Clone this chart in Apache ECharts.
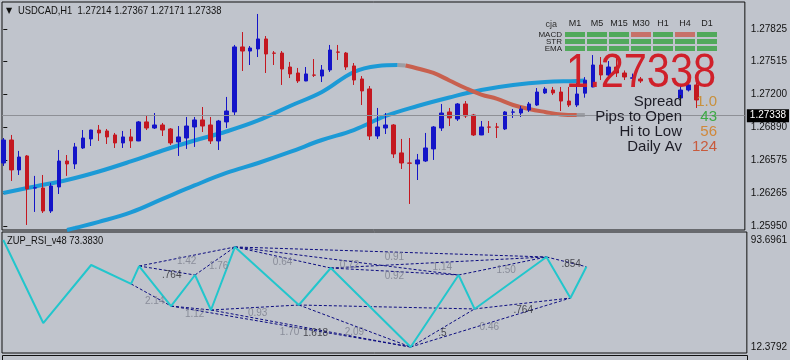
<!DOCTYPE html>
<html><head><meta charset="utf-8">
<script src="https://cdn.jsdelivr.net/npm/echarts@6/dist/echarts.min.js"></script>
<style>html,body{margin:0;padding:0;background:#C0C4CC;}#c{width:790px;height:360px;}</style>
</head><body><div id="c"></div><script>
// ---------- DATA ----------
const symbolName = 'USDCAD,H1';
const headerOHLC = [1.27214, 1.27367, 1.27171, 1.27338];
const lastClose = 1.27338;
const priceTicks = [1.25950, 1.26265, 1.26575, 1.26890, 1.27200, 1.27515, 1.27825];
const rsiTicks = [12.3792, 93.6961];
const rsiName = 'ZUP_RSI_v48';
const rsiLast = 73.3830;

const opens = [1.26549,1.26768,1.26483,1.26616,1.26311,1.26311,1.26092,1.26321,1.26568,1.26540,
1.26692,1.26778,1.26863,1.26854,1.26816,1.26740,1.26797,1.26759,1.26940,1.26882,
1.26911,1.26873,1.26749,1.26787,1.26892,1.26959,1.26911,1.26759,1.26940,1.27035,
1.27654,1.27615,1.27635,1.27730,1.27596,1.27596,1.27463,1.27406,1.27330,1.27387,
1.27377,1.27435,1.27606,1.27596,1.27473,1.27349,1.27254,1.26806,1.26882,1.26911,
1.26645,1.26549,1.26540,1.26568,1.26683,1.26882,1.27035,1.26968,1.27111,1.27006,
1.26816,1.26892,1.26892,1.26873,1.27033,1.27025,1.27054,1.27101,1.27216,1.27244,
1.27225,1.27139,1.27101,1.27214];
const closes = [1.26768,1.26483,1.26606,1.26302,1.26313,1.26092,1.26330,1.26568,1.26540,1.26702,
1.26787,1.26863,1.26835,1.26797,1.26740,1.26797,1.26759,1.26940,1.26882,1.26911,
1.26863,1.26740,1.26797,1.26901,1.26959,1.26901,1.26759,1.26949,1.27044,1.27654,
1.27615,1.27644,1.27730,1.27587,1.27594,1.27444,1.27397,1.27330,1.27397,1.27385,
1.27435,1.27625,1.27604,1.27463,1.27339,1.27235,1.26806,1.26892,1.26911,1.26635,
1.26549,1.26547,1.26578,1.26692,1.26892,1.27025,1.26978,1.27111,1.26997,1.26816,
1.26892,1.26890,1.26890,1.27035,1.27035,1.27063,1.27111,1.27225,1.27254,1.27216,
1.27139,1.27101,1.27206,1.27338];
const lows = [1.26521,1.26378,1.26435,1.25959,1.26083,1.26073,1.26073,1.26254,1.26426,1.26492,
1.26683,1.26711,1.26759,1.26730,1.26692,1.26692,1.26692,1.26757,1.26863,1.26873,
1.26806,1.26721,1.26616,1.26683,1.26702,1.26844,1.26730,1.26673,1.26882,1.27006,
1.27425,1.27482,1.27558,1.27406,1.27482,1.27292,1.27358,1.27311,1.27328,1.27368,
1.27320,1.27416,1.27530,1.27435,1.27292,1.27101,1.26768,1.26778,1.26825,1.26597,
1.26492,1.26159,1.26387,1.26559,1.26578,1.26854,1.26901,1.26949,1.26978,1.26806,
1.26814,1.26835,1.26787,1.26863,1.26978,1.26987,1.27035,1.27092,1.27206,1.27197,
1.27044,1.27082,1.27082,1.27171];
const highs = [1.26787,1.26816,1.26664,1.26625,1.26426,1.26435,1.26359,1.26673,1.26625,1.26740,
1.26863,1.26865,1.26911,1.26873,1.26835,1.26854,1.26873,1.26949,1.26997,1.27025,
1.26930,1.26882,1.26901,1.26987,1.26987,1.27082,1.26987,1.26959,1.27178,1.27673,
1.27796,1.27663,1.27968,1.27758,1.27615,1.27615,1.27511,1.27454,1.27463,1.27539,
1.27482,1.27673,1.27673,1.27606,1.27501,1.27377,1.27282,1.27073,1.27025,1.26920,
1.26778,1.26787,1.26635,1.26835,1.26901,1.27111,1.27073,1.27120,1.27139,1.27016,
1.26949,1.26949,1.26930,1.27044,1.27063,1.27092,1.27130,1.27263,1.27273,1.27273,
1.27273,1.27273,1.27311,1.27367];

// extra bars drawn in the right margin (index, open, close, low, high)
const extraIdx   = [74, 75, 76, 77, 78, 79, 80, 85, 86, 87];
const extraOpen  = [1.27273,1.27482,1.27387,1.27463,1.27406,1.27356,1.27349,1.27168,1.27244,1.27292];
const extraClose = [1.27482,1.27387,1.27463,1.27406,1.27368,1.27360,1.27330,1.27244,1.27292,1.27149];
const extraLow   = [1.27270,1.27339,1.27358,1.27368,1.27339,1.27330,1.27311,1.27130,1.27230,1.27073];
const extraHigh  = [1.27577,1.27558,1.27520,1.27558,1.27430,1.27400,1.27368,1.27290,1.27320,1.27311];

// slow MA (colour by slope) sampled points [barIndex, price]
const maUp   = [[0,1.26264],[4,1.26326],[8,1.26387],[12,1.26468],[16,1.26564],[20,1.26668],[24,1.26763],[28,1.26849],[32,1.26954],[36,1.27092],[40,1.27225],[44,1.27416],[47,1.27473],[49.5,1.27482]];
const maFlat1 = [[49.5,1.27482],[50.5,1.27477]];
const maDown = [[50.5,1.27477],[52,1.27449],[54,1.27406],[56,1.27335],[58,1.27263],[60,1.27201],[62,1.27159],[64,1.27101],[66,1.27063],[68,1.27035],[70,1.27011],[72,1.27006]];
const maFlat2 = [[72,1.27006],[73,1.27006]];
// second MA
const ma2 = [[8,1.25911],[9,1.25930],[12,1.25988],[16,1.26078],[20,1.26207],[24,1.26335],[28,1.26454],[32,1.26549],[36,1.26654],[40,1.26768],[44,1.26863],[48,1.26997],[52,1.27092],[56,1.27173],[60,1.27244],[64,1.27292],[68,1.27320],[72,1.27330],[73,1.27335]];

// signal table
const tfCols = ['M1','M5','M15','M30','H1','H4','D1'];
const sigRows = ['MACD','STR','EMA'];
const sigMACD = [1,1,1,-1,1,-1,1];
const sigSTR  = [1,1,1,1,1,1,1];
const sigEMA  = [1,1,1,1,1,1,1];

// stats panel
const statLabels = ['Spread','Pips to Open','Hi to Low','Daily Av'];
const statValues = ['1.0','43','56','124'];
const statColors = ['#C8903C','#3DAA45','#D0883A','#C85A3C'];

// ZUP zigzag on RSI: [barIndex, rsi]
const zigIdx = [0,5,11,16,17,21,24,26,29,37,41,51,57,59,68,71,73];
const zigVal = [93.6961,30.6,74.7,60.3,73.9,43.5,67.1,40.5,88.4,44.3,72.4,12.3792,67.1,41.3,80.8,49.6,73.383];
// pattern links between zigzag points (point numbers)
const fibLinks = [[3,5],[4,6],[4,8],[6,8],[5,7],[5,11],[7,9],[7,11],[8,10],[8,12],[8,14],[9,11],[9,13],[10,12],[10,14],[11,13],[11,15],[12,14],[13,15],[14,16]];
// ratio labels
const fibLabelIdx = [22.96,21.09,26.96,18.96,23.96,31.84,34.96,35.84,39.09,43.34,43.96,48.96,48.96,54.96,54.96,62.96,60.84,65.09,71.09];
const fibLabelVal = [77.7,67.1,73.9,47.3,37.5,38.2,77.0,23.8,23.0,74.2,23.8,80.8,66.3,73.2,23.0,70.9,27.6,40.5,75.5];
const fibLabelTxt = ['1.42','.764','1.76','2.14','1.12','0.93','0.64','1.70','1.618','0.72','2.09','0.91','0.92','1.14','.5','1.50','0.46','.764','.854'];
const fibLabelDark = [0,1,0,0,0,0,0,0,1,0,0,0,0,0,1,0,0,1,1];

// ---------- BUILD ----------
const SANS = '"Liberation Sans",Arial,sans-serif';
const XMIN = -0.1625, XMAX = 93.0875;
const UP = '#1414C8', DN = '#C41820';

const candleData = opens.map((o,i)=>[i,o,closes[i],lows[i],highs[i]]);
const extraData = extraIdx.map((k,i)=>[k,extraOpen[i],extraClose[i],extraLow[i],extraHigh[i]]);
const sigMatrix = [sigMACD, sigSTR, sigEMA];
const sigData = [];
sigMatrix.forEach((row,r)=>row.forEach((s,c)=>sigData.push([c,r,s])));
const zig = zigIdx.map((k,i)=>[k,zigVal[i]]);
const fibLines = fibLinks.map(([a,b])=>({coords:[zig[a],zig[b]]}));
const fibLabels = fibLabelIdx.map((k,i)=>({value:[k,fibLabelVal[i]], name:fibLabelTxt[i],
  label:{color: fibLabelDark[i] ? '#2A2A30' : '#7A7E8C'}}));

const candleStyle = {color:UP,color0:DN,borderColor:UP,borderColor0:DN,borderWidth:1};

const graphics = [
  {type:'text', x:6, y:11, style:{text:'▼', font:'8px "DejaVu Sans"', fill:'#111', verticalAlign:'middle'}},
  {type:'text', x:18, y:11, scaleX:0.855, style:{text:symbolName+'  '+headerOHLC.map(v=>v.toFixed(5)).join(' '), font:'11px '+SANS, fill:'#111', verticalAlign:'middle'}},
  {type:'text', x:7, y:241, scaleX:0.85, style:{text:rsiName+' '+rsiLast.toFixed(4), font:'11px '+SANS, fill:'#111', verticalAlign:'middle'}},
  {type:'text', x:557, y:25, style:{text:'cja', font:'9px '+SANS, fill:'#333', align:'right', verticalAlign:'middle'}},
  {type:'text', x:566, y:74, z:50, scaleX:0.865, style:{text:lastClose.toFixed(5), font:'48px '+SANS, fill:'#D0202A', verticalAlign:'middle'}},
  {type:'rect', shape:{x:2.5,y:355.5,width:745,height:20}, style:{fill:'none',stroke:'#101010',lineWidth:1}}
];
statLabels.forEach((t,i)=>{
  graphics.push({type:'text', x:682, y:102+15*i, z:50, style:{text:t, font:'15px '+SANS, fill:'#1C1C26', align:'right', verticalAlign:'middle'}});
  graphics.push({type:'text', x:717, y:102+15*i, z:50, style:{text:statValues[i], font:'15px '+SANS, fill:statColors[i], align:'right', verticalAlign:'middle'}});
});

const option = {
  backgroundColor:'#C0C4CC',
  animation:false,
  grid:[
    {left:2, right:42, top:2, height:228, show:true, borderColor:'#101010', borderWidth:1, backgroundColor:'transparent'},
    {left:564, top:31, width:154, height:21, show:false},
    {left:2, right:42, top:232, height:121, show:true, borderColor:'#101010', borderWidth:1, backgroundColor:'transparent'}
  ],
  xAxis:[
    {type:'value', gridIndex:0, min:XMIN, max:XMAX, show:false},
    {type:'category', gridIndex:1, data:tfCols, position:'top', axisLine:{show:false}, axisTick:{show:false},
      axisLabel:{interval:0, fontSize:9, margin:3, color:'#222', fontFamily:SANS}},
    {type:'value', gridIndex:2, min:XMIN, max:XMAX, show:false}
  ],
  yAxis:[
    {type:'value', gridIndex:0, min:1.25911, max:1.28082, position:'right', splitLine:{show:false},
      axisLine:{show:false},
      axisTick:{show:true, length:4, customValues:priceTicks, lineStyle:{color:'#111'}},
      axisLabel:{customValues:priceTicks, formatter:v=>v.toFixed(5), color:'#111', fontSize:10, fontFamily:SANS, margin:6}},
    {type:'category', gridIndex:1, data:sigRows, inverse:true, axisLine:{show:false}, axisTick:{show:false},
      axisLabel:{interval:0, fontSize:8, margin:2, color:'#222', fontFamily:SANS, lineHeight:8}},
    {type:'value', gridIndex:2, min:7.82, max:99.78, position:'right', splitLine:{show:false},
      axisLine:{show:false}, axisTick:{show:false},
      axisLabel:{customValues:rsiTicks, formatter:v=>v.toFixed(4), color:'#111', fontSize:10, fontFamily:SANS, margin:4}}
  ],
  series:[
    {type:'line', xAxisIndex:0, yAxisIndex:0, data:ma2, smooth:0.4, showSymbol:false, lineStyle:{color:'#1C9AD6', width:4}, z:2},
    {type:'line', xAxisIndex:0, yAxisIndex:0, data:maUp, smooth:0.4, showSymbol:false, lineStyle:{color:'#1C9AD6', width:4}, z:2},
    {type:'line', xAxisIndex:0, yAxisIndex:0, data:maFlat1, showSymbol:false, lineStyle:{color:'#9C9EA4', width:4}, z:2},
    {type:'line', xAxisIndex:0, yAxisIndex:0, data:maDown, smooth:0.4, showSymbol:false, lineStyle:{color:'#C8604E', width:4}, z:2},
    {type:'line', xAxisIndex:0, yAxisIndex:0, data:maFlat2, showSymbol:false, lineStyle:{color:'#9C9EA4', width:4}, z:2},
    {type:'candlestick', xAxisIndex:0, yAxisIndex:0, data:candleData, barWidth:4,
      dimensions:['idx','open','close','lowest','highest'], encode:{x:'idx', y:['open','close','lowest','highest']},
      itemStyle:candleStyle, z:3,
      markLine:{symbol:'none', silent:true, animation:false,
        lineStyle:{color:'#8E9096', width:1, type:'solid'},
        label:{show:true, position:'end', distance:2, formatter:()=>lastClose.toFixed(5), color:'#fff', backgroundColor:'#000',
          padding:[2,3,1,3], fontSize:10, fontFamily:SANS},
        data:[{yAxis:lastClose}]}},
    {type:'candlestick', xAxisIndex:0, yAxisIndex:0, data:extraData, barWidth:4,
      dimensions:['idx','open','close','lowest','highest'], encode:{x:'idx', y:['open','close','lowest','highest']},
      itemStyle:candleStyle, z:3},
    {type:'scatter', xAxisIndex:1, yAxisIndex:1, data:sigData, symbol:'rect', symbolSize:[20,5], z:5,
      itemStyle:{color:p=>p.value[2] > 0 ? '#34A23E' : '#C85C50'}},
    {type:'lines', coordinateSystem:'cartesian2d', xAxisIndex:2, yAxisIndex:2, data:fibLines, silent:true,
      lineStyle:{color:'#0C0C80', width:1, type:[3,2], opacity:1, curveness:0}, z:2},
    {type:'line', xAxisIndex:2, yAxisIndex:2, data:zig, showSymbol:false, lineStyle:{color:'#22C6CC', width:2}, z:3},
    {type:'scatter', xAxisIndex:2, yAxisIndex:2, data:fibLabels, symbolSize:0, z:4,
      label:{show:true, position:'inside', formatter:'{b}', fontSize:10, fontFamily:SANS}}
  ],
  graphic:graphics
};
const chart = echarts.init(document.getElementById('c'), null, {renderer:'canvas'});
chart.setOption(option);
</script></body></html>
